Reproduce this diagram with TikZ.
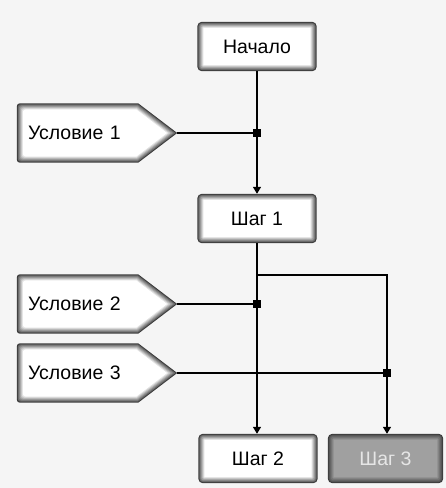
\documentclass[tikz,border=0pt]{standalone}
\usepackage{fontspec}
\setmainfont{Liberation Sans}
\usetikzlibrary{calc,arrows.meta,backgrounds}

\definecolor{page}{HTML}{F5F5F5}
% bevel bands of the light boxes, outer edge to face
\definecolor{w0}{HTML}{3C3C3C}
\definecolor{w1}{HTML}{686868}
\definecolor{w2}{HTML}{868686}
\definecolor{w3}{HTML}{A4A4A4}
\definecolor{w4}{HTML}{C4C4C4}
\definecolor{w5}{HTML}{E2E2E2}
\definecolor{w6}{HTML}{FFFFFF}
% bevel bands of the dark (inactive) box
\definecolor{g0}{HTML}{3C3C3C}
\definecolor{g1}{HTML}{555555}
\definecolor{g2}{HTML}{646464}
\definecolor{g3}{HTML}{737373}
\definecolor{g4}{HTML}{828282}
\definecolor{g5}{HTML}{929292}
\definecolor{g6}{HTML}{A0A0A0}
\definecolor{stepfg}{HTML}{E6E6E6}

% nested bands inside a rectangular node
\newcommand\bevelrect[2]{%
  \foreach \d in {0,...,6}{%
    \pgfmathsetmacro\rr{max(4.5-0.7*\d,0.5)}%
    \fill[#2\d, rounded corners=\rr pt]
      ($(#1.south west)+(\d pt,\d pt)$) rectangle ($(#1.north east)-(\d pt,\d pt)$);
  }%
}
% nested bands inside a pointed condition tag
\newcommand\beveltag[2]{%
  \foreach \d in {0,...,6}{%
    \pgfmathsetmacro\bx{39+0.335*\d}%
    \pgfmathsetmacro\tx{1.68*\d}%
    \fill[#2\d]
      ($(#1.east)+(-\tx pt,0pt)$)
      -- ($(#1.south east)+(-\bx pt,\d pt)$)
      [rounded corners=3pt] -- ($(#1.south west)+(\d pt,\d pt)$)
      -- ($(#1.north west)+(\d pt,-\d pt)$)
      [sharp corners] -- ($(#1.north east)+(-\bx pt,-\d pt)$)
      -- cycle;
  }%
}

\tikzset{
  stepbox/.style={rectangle, minimum width=119pt, minimum height=49pt,
    inner sep=0pt, font=\fontsize{19.5}{22}\selectfont},
  condbox/.style={rectangle, minimum width=160pt, minimum height=59pt,
    text width=138pt, align=left, inner xsep=11pt, inner ysep=0pt,
    font=\fontsize{19.5}{22}\selectfont},
  wire/.style={line width=1.5pt, black},
  flow/.style={wire, -{Triangle[width=8pt,length=7pt]}},
  joint/.style={rectangle, fill=black, minimum size=8pt, inner sep=0pt},
}

\begin{document}
\begin{tikzpicture}[x=1pt,y=-1pt]
\useasboundingbox (0,0) rectangle (446,488);

% steps
\node[stepbox] (start) at (257,46.5) {Начало};
\node[stepbox] (s1) at (257,218.5) {Шаг 1};
\node[stepbox] (s2) at (258,458.5) {Шаг 2};
\node[stepbox, minimum width=115pt, text=stepfg] (s3) at (385.5,458.5) {Шаг 3};

% conditions
\node[condbox] (u1) at (97,133) {Условие 1};
\node[condbox] (u2) at (97,304) {Условие 2};
\node[condbox] (u3) at (97,373) {Условие 3};

% junctions
\coordinate (br) at (387,275);
\node[joint] (j1) at (257,133) {};
\node[joint] (j2) at (257,304) {};
\node[joint] (j3) at (387,373) {};

% flow
\draw[flow] (start.south) -- (s1.north);
\draw[flow] (s1.south) -- (s1.south |- s2.north);
\draw[flow] (s1.south |- br) -- (br) -- (br |- s3.north);
\draw[wire] (u1.east) -- (j1);
\draw[wire] (u2.east) -- (j2);
\draw[wire] (u3.east) -- (j3);

\begin{pgfonlayer}{background}
  \fill[page] (0,0) rectangle (446,488);
  \bevelrect{start}{w}
  \bevelrect{s1}{w}
  \bevelrect{s2}{w}
  \bevelrect{s3}{g}
  \beveltag{u1}{w}
  \beveltag{u2}{w}
  \beveltag{u3}{w}
\end{pgfonlayer}
\end{tikzpicture}
\end{document}
